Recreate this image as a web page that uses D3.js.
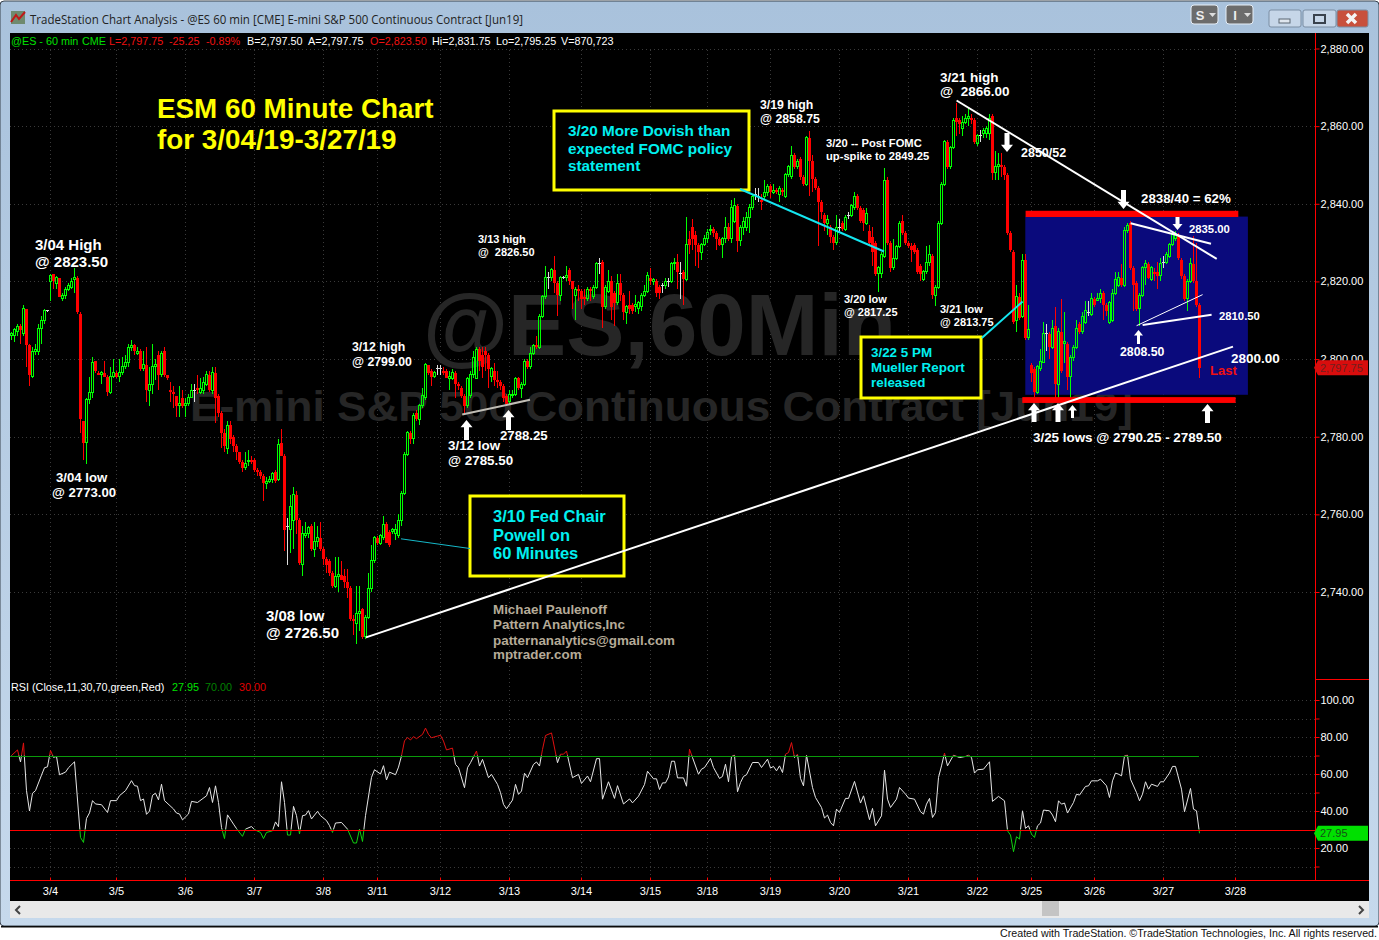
<!DOCTYPE html>
<html>
<head>
    <title>ESM 60 Minute Chart</title>
    <script src="https://d3js.org/d3.v7.min.js"></script>
    <style>
        html, body { margin: 0; padding: 0; background: #fff; overflow: hidden; }
        svg { display: block; font-family: "Liberation Sans", Arial, sans-serif; }
        .axis text { fill: #fff; font-size: 11px; font-family: "Liberation Sans", Arial, sans-serif; }
        .axis line { stroke: #f00; }
        .note { font-weight: bold; white-space: pre; }
    </style>
</head>
<body>
<div id="chart"></div>
<script>
// 60 minute bars, one list per session, each row is [open, high, low, close]
const barsMar01 = [[2806,2807,2805,2806.5],[2806,2808,2804.5,2807.5],[2807,2809,2806,2808.5],[2808.5,2809,2804,2807.5],[2806.5,2814,2806,2813],[2813,2813,2798,2803.5],[2803.5,2804,2793,2796],[2795.5,2803,2795,2802],[2802,2804,2801,2802.5],[2802,2809,2801,2808],[2808,2811,2804,2810],[2810,2813,2809,2812.5],[2812.5,2812.75,2812.25,2812.5]];
const barsMar04 = [[2820,2822,2815,2821.5],[2822,2822,2818,2820],[2819.5,2821.5,2818,2821],[2821,2821,2816,2816],[2815.5,2817,2815,2816.5],[2816.5,2818.5,2815.5,2818],[2818,2819.5,2817.5,2819],[2818.5,2821,2818,2820],[2820.5,2823.5,2817,2821],[2821,2821.5,2811.5,2812],[2811.5,2812,2781,2784.5],[2784,2784,2774,2778.5],[2778.5,2790,2773,2789.5],[2789.5,2795.5,2788.5,2791.5],[2791.5,2800.5,2790,2799],[2799.5,2799.5,2796.5,2797],[2796.5,2797,2796,2796],[2796,2797,2793.5,2796.5],[2796.5,2799.5,2795.5,2795.5],[2795.5,2796,2790.5,2791.5],[2791.5,2798,2791,2795.5],[2795.5,2800,2795,2796.5]];
const barsMar05 = [[2796.5,2797,2795,2795.5],[2795.5,2800,2794,2796.5],[2796.5,2800.5,2796,2798],[2798,2801,2797.5,2799],[2799,2804,2798,2803],[2803,2805,2802,2803.5],[2803.5,2804,2801,2802],[2801.5,2803,2801,2802],[2802,2802.5,2797,2797.5],[2797.5,2802,2797,2798.5],[2798.5,2803,2789,2792],[2792,2798,2788,2793.5],[2793.5,2804,2791,2798],[2798,2800,2794.5,2798.5],[2801,2802,2792,2796],[2796,2802,2795.5,2801.5],[2802,2803,2795.5,2796],[2796,2796,2794.5,2795],[2792,2794,2789,2791.5],[2791.5,2793,2787.5,2791],[2790.5,2790.5,2785,2788],[2788,2793,2785,2788.5],[2790,2792,2787.5,2788]];
const barsMar06 = [[2788,2790,2785,2788.5],[2788.5,2791,2788,2790],[2790,2793.5,2790,2792],[2792,2793.5,2789,2792],[2792.5,2796,2791,2792],[2791.5,2795,2791,2792.5],[2792,2795.5,2791,2794],[2793.5,2797,2793,2796],[2796,2797,2791.5,2792],[2792,2798,2791,2796.5],[2796.5,2798,2783.5,2790],[2790.5,2791,2785,2786],[2786,2786.5,2777,2781],[2781,2782,2776,2777.5],[2777,2784,2775.5,2783],[2783,2784,2778,2779.5],[2780,2780.5,2776,2777.5],[2777.5,2778,2774,2776],[2776,2776,2773,2773.5],[2773.5,2774,2771,2772],[2772,2776,2771.5,2773],[2773.5,2776.5,2772.5,2774],[2774,2775,2773,2773.5]];
const barsMar07 = [[2774,2774.5,2771,2771.5],[2771.5,2772,2770,2771],[2771,2771.5,2769,2770],[2770,2770.5,2763.5,2768],[2768,2769.5,2766.5,2768.5],[2768.5,2770,2768,2769],[2769,2771,2768,2770.5],[2771,2771.5,2768,2768.5],[2769,2779.5,2768.5,2778],[2778.5,2782,2775,2775],[2775,2775.5,2750.5,2756],[2757,2759,2747,2757],[2756,2765,2750,2762],[2758.5,2767,2751,2765],[2765,2766,2755,2758.5],[2758.5,2759,2747,2747.5],[2747,2757,2744,2755],[2754.5,2758,2754,2755],[2755,2757,2754,2756.5],[2757,2757.5,2750.5,2751],[2751,2758,2749,2753],[2753,2757,2751.5,2754],[2754,2758,2750.5,2751]];
const barsMar08 = [[2751,2751.5,2747,2748.5],[2748.5,2749,2745,2747],[2748,2748.5,2744,2745],[2745,2745.5,2741,2741.5],[2741.5,2749,2741,2744],[2744,2749,2740,2744.5],[2744.5,2748,2743,2743],[2744,2746,2741,2742.5],[2742.5,2746,2738.5,2741],[2741,2741.5,2732.5,2733],[2733,2734,2729,2732.5],[2732,2741.5,2726.5,2734.5],[2734.5,2741.5,2730,2735],[2735.5,2736,2728,2728.5],[2728.5,2734,2728,2733.5],[2733.5,2745,2733,2741],[2741,2752,2740,2748],[2748,2754.5,2747.5,2754]];
const barsMar11 = [[2754,2754.5,2752,2752.5],[2752.5,2755,2752,2754.5],[2754,2759.5,2753.5,2757.5],[2757.5,2758,2752.5,2752.5],[2755.5,2756,2751.5,2752],[2755.5,2756.5,2755,2756],[2755,2757.5,2753.5,2756],[2754.5,2760,2754,2758.5],[2758.5,2766,2757,2765.5],[2765.5,2776,2765,2775.5],[2775.5,2781.5,2775,2781],[2781,2781.5,2778,2779.5],[2779.5,2786,2778,2785.5],[2786,2787,2784,2784.5],[2784.5,2788.5,2783,2788],[2788,2792.5,2787.5,2790.5],[2790,2799,2789.5,2798.5],[2798.5,2798.5,2796,2796.5],[2797,2797.5,2793,2795.5],[2795.5,2797,2795,2796.5],[2797.5,2798.5,2796,2797.5]];
const barsMar12 = [[2797.5,2798.5,2796,2797.5],[2797,2798,2796,2796.5],[2797,2797.5,2795,2795],[2795,2797,2792,2795.5],[2795,2797.5,2794.5,2796.5],[2796.5,2797,2790,2793.5],[2793.5,2794,2792,2793],[2792.5,2793,2790,2790.5],[2790.5,2791,2785.5,2788],[2788,2795.5,2787.5,2795],[2790.5,2797,2790,2796],[2796,2802,2795,2800.5],[2795,2803,2795,2802.5],[2802.5,2803,2797,2799.5],[2801,2803,2795,2798],[2802,2803,2797,2801],[2801,2801.5,2792.5,2797.5],[2795.5,2798,2794,2797.5],[2797,2799,2793,2794.5],[2794.5,2797,2792.5,2794],[2794,2794.5,2792,2793],[2793,2793.5,2789,2790],[2790.5,2791,2788.25,2788.5]];
const barsMar13 = [[2789,2792,2788.5,2791],[2790.5,2792,2790,2791],[2791,2795.5,2790.5,2795],[2795,2795.5,2792,2792.5],[2792.5,2794,2790,2793.5],[2793.5,2800,2793,2799.5],[2799.5,2800,2797.5,2798],[2798,2803,2797.5,2801.5],[2801.5,2804,2801,2803.5],[2803.5,2806,2802.5,2803],[2803,2811.5,2802.5,2811],[2811,2816.5,2810.5,2816],[2816,2824,2815.5,2821],[2821,2822.5,2818,2821],[2821,2823.5,2820,2823],[2823,2826.5,2817,2819.5],[2819.5,2820,2811,2816.5],[2816.5,2821.5,2815,2821],[2821,2821.5,2820.5,2821],[2821,2824,2820,2821.5],[2823,2823.5,2819,2820],[2820,2820,2813,2818],[2816.5,2818.5,2810,2818],[2818,2819,2815,2817.5]];
const barsMar14 = [[2817.5,2818,2813,2815.5],[2816,2818,2814,2815.5],[2815.5,2818.5,2815,2818],[2818,2818.5,2815,2817.5],[2816,2819,2815.5,2818.5],[2818.5,2825,2818,2824.5],[2824.5,2826,2822,2824.5],[2825,2825.5,2808,2813.5],[2813.5,2819,2813,2818.5],[2817.5,2823,2817,2820],[2820,2821.5,2810,2813.5],[2817,2817.5,2808.5,2814.5],[2814.5,2822,2814,2819.5],[2819.5,2822,2815,2816.5],[2816.5,2817,2810,2812],[2812,2814,2809,2813.5],[2814,2817.5,2811.5,2813],[2814,2814.5,2811.5,2812.5],[2813.5,2816.5,2812,2814],[2813,2815,2811.5,2814.5],[2813.5,2817,2812.5,2816.5],[2816.5,2819,2816,2817.5],[2817.5,2822.5,2817,2821.5]];
const barsMar15 = [[2821,2823.5,2819,2820],[2820,2821,2819,2820.5],[2820,2820.5,2816,2817],[2818.5,2819,2815.5,2817],[2819,2819.5,2817,2819],[2819,2821,2818,2820],[2820,2821,2818.5,2820],[2820,2825,2819.5,2824.5],[2824.5,2826,2823,2825],[2825,2827,2818,2822.5],[2822,2825,2815.5,2822],[2822.5,2823,2814,2820.5],[2820.5,2836.5,2820,2829.5],[2831,2833,2827,2829.5],[2834,2836,2828,2831],[2832,2833,2824,2829.5],[2829.5,2830,2823.5,2827.5],[2827.5,2830,2825.5,2829.5],[2829.5,2832,2829,2831]];
const barsMar18 = [[2831,2833.5,2830,2832.5],[2833,2834.5,2832,2833.5],[2833.5,2834,2831.5,2832.5],[2832.5,2833,2828,2831],[2831,2831.5,2829,2829.5],[2829.5,2831.5,2826,2831],[2831,2836.5,2830,2834],[2834,2835,2830.5,2831],[2831,2841,2830,2839],[2835.5,2841.5,2835,2839.5],[2839.5,2840,2827.5,2830.5],[2830.5,2834.5,2829,2834],[2834,2836.5,2832,2835.5],[2834,2838,2833,2836.5],[2836.5,2840,2832.5,2839],[2839,2842.5,2838.5,2842],[2842.5,2844,2841,2842.5],[2842,2844,2840.5,2842],[2841,2842.5,2838.5,2840.5],[2842,2846,2841,2843],[2843,2845,2842,2844.5]];
const barsMar19 = [[2844.5,2845,2841.5,2843],[2843,2845,2842.5,2843.5],[2843.5,2844,2842.5,2843],[2842.5,2844.5,2840.5,2844],[2843.5,2844,2842,2843],[2842,2848,2841.5,2847.5],[2847.5,2850,2847,2849.5],[2847,2855,2846.5,2852.5],[2852.5,2853,2849,2849.5],[2849.5,2851.5,2849,2851],[2851.5,2852,2846,2847],[2847,2847.5,2844.5,2845],[2845,2857.5,2844.5,2857],[2857,2858.75,2842,2851],[2851,2852.5,2843,2846.5],[2846.5,2847,2843.5,2844],[2844,2844.5,2829,2840.5],[2840.5,2841,2836,2838],[2837,2837.5,2833,2835],[2835,2837,2832,2836],[2834,2834.5,2830,2831.5],[2831.5,2832,2828,2830],[2830,2837,2829.5,2834]];
const barsMar20 = [[2834,2836,2832.5,2834],[2835,2835.5,2833,2833.5],[2833.5,2837,2833,2836.5],[2837,2838,2836,2837],[2837,2840,2836.5,2839.5],[2839,2843,2838.5,2842],[2842,2842.5,2838.5,2839],[2839,2839.5,2835,2835.5],[2838.5,2839,2833,2835],[2835,2839,2834.5,2837.5],[2833,2834.5,2829,2830],[2831.5,2834,2824,2827.5],[2830,2830.5,2821.5,2822],[2822,2824,2817.25,2823.5],[2822,2827.5,2821,2827],[2826.5,2849.25,2826,2846],[2846,2847,2829.5,2830],[2830,2830.5,2822.5,2823.5],[2823.5,2831,2823,2826],[2826,2829.5,2825.5,2829],[2829,2835.5,2828.5,2835],[2835.5,2837,2832,2832.5],[2832.5,2833,2829.5,2830]];
const barsMar21 = [[2830,2830.5,2828.5,2829],[2829,2830,2825,2828],[2829.5,2830,2827,2827.5],[2828,2828.5,2822,2822.5],[2824,2824.5,2820,2822],[2820.5,2823,2820,2822.5],[2822.5,2829,2822,2825],[2825,2829.5,2824,2827],[2826.5,2827,2815.5,2816.5],[2816.5,2819,2813.75,2818.5],[2818.5,2835.5,2818,2835],[2835,2845.5,2834.5,2845],[2845,2856.5,2844.5,2856],[2856,2856.5,2849,2849.5],[2849.5,2855,2849,2854.5],[2854.5,2862,2854,2861.5],[2862,2866,2857.5,2861],[2861.5,2862,2858,2860.5],[2859.5,2862.5,2857.5,2861],[2861,2863,2860.5,2862],[2862,2865,2860,2862.5],[2862,2863,2860.5,2861.5],[2861.5,2862,2855.5,2856]];
const barsMar22 = [[2855.5,2858,2855,2857.5],[2857.5,2859,2856,2857.5],[2858,2859.5,2857,2859],[2858,2860,2857,2859.5],[2858,2863,2856.5,2862],[2862.5,2863,2846,2848],[2848,2853.5,2846,2849.5],[2849.5,2853,2846,2850],[2850,2853,2847,2849.5],[2849.5,2850,2846,2847.5],[2847.5,2848,2832,2832.5],[2832.5,2833,2827.5,2828],[2827.5,2828,2809,2809.5],[2810,2819,2807,2816],[2816,2817,2810,2810.5],[2811,2827,2810.5,2825.5],[2825.5,2827,2805,2805.5],[2805.5,2814,2805,2807.5]];
const barsMar25 = [[2798.5,2799,2794,2796.5],[2797.5,2798,2790.25,2791.5],[2791.5,2798.5,2791,2798],[2797.5,2802.5,2797,2799.5],[2799,2809.5,2799,2806.5],[2806.5,2809,2802,2806.5],[2806.5,2807,2800,2803],[2803,2810,2802.5,2808],[2808.5,2813.5,2789.5,2793.5],[2793.5,2808,2789.5,2807],[2807,2815.5,2796.5,2797],[2804,2812,2799,2804.5],[2804,2804.5,2792,2795.5],[2795.5,2801,2789.5,2800.5],[2800.5,2803.5,2799.5,2803],[2803,2810,2802.5,2808],[2809,2809.5,2806.5,2807],[2807,2812,2806.5,2811],[2809.5,2815,2809,2812.5],[2812,2815,2811,2812],[2811.5,2817,2811,2815.5]];
const barsMar26 = [[2815.5,2816,2813.5,2814],[2815,2817,2815,2815.5],[2815.5,2818,2814.5,2817],[2817,2817.5,2810,2814],[2814,2814.5,2811,2812.5],[2809.5,2815,2809,2814.5],[2810,2818,2809.5,2817],[2817,2822.5,2816.5,2820.5],[2819,2822.5,2818.5,2821],[2821,2824.5,2818.5,2819],[2819,2834,2818.5,2833],[2833,2835,2832.5,2834.5],[2835,2835.5,2823,2823.5],[2823.5,2824,2812.5,2819],[2819.5,2820,2812.5,2813],[2813,2817,2808.5,2816.5],[2816.5,2824,2816,2823.5],[2823.5,2825.5,2819,2824.5],[2824.5,2825,2820.5,2821],[2820.5,2824,2820,2823.5],[2822.5,2823.5,2820,2822],[2822.5,2825,2818,2821.5],[2821.5,2826,2820,2824.5]];
const barsMar27 = [[2825,2826.5,2823.5,2825],[2825,2827.5,2824.5,2827],[2826.5,2830,2826,2829.5],[2829.5,2833,2829,2832],[2831,2833,2830.5,2832],[2832,2832.5,2825.5,2826],[2825.5,2826,2820.5,2821.5],[2821.5,2822,2815,2815.5],[2815.5,2820.5,2812.5,2820],[2820,2826,2819.5,2824.5],[2824.5,2831.75,2819.5,2820],[2820,2830,2813.5,2814],[2814,2814.5,2795.25,2797.75]];

// RSI turning points: bar number and value
const rsiBar = [0,2,3,4,5,6,7,8,10,11,12,13,14,15,16,18,19,21,23,24,25,26,27,28,30,32,33,35,36,38,40,41,42,43,44,45,46,47,48,49,50,51,54,55,56,57,59,60,62,65,66,67,68,69,70,71,72,74,75,77,78,80,81,83,84,85,87,88,89,90,91,92,93,94,95,96,97,98,99,100,102,103,105,106,107,108,110,112,114,115,116,117,118,120,121,123,124,125,126,128,129,130,131,132,133,134,135,137,138,139,140,142,143,144,145,147,148,149,151,152,153,155,156,157,159,160,162,163,164,165,167,168,169,170,171,172,174,175,176,177,178,180,182,183,184,185,187,189,190,192,193,195,196,197,199,201,202,204,206,207,209,211,212,214,215,216,217,218,219,220,221,222,224,225,226,227,229,230,231,233,234,236,237,238,239,240,241,242,243,244,245,247,249,250,252,253,254,255,256,257,258,259,260,261,262,263,264,265,267,268,270,271,272,273,274,275,276,278,279,281,283,284,286,287,288,290,291,292,293,295,296,298,299,301,303,304,305,306,307,308,309,310,311,312,314,316,318,319,320,321,322,324,326,327,329,331,332,333,334,335,336,337,338,339,340,341,342,343,344,346,347,348,349,350,351,352,354,355,356,358,359,360,362,363,365,366,367,368,369,370,371,372,373,375,376,377,378,379,380,382,383,384,386,387,388,390,391,393,394,395,396];
const rsiValue = [70,73,66.5,76.8,51,40,49.6,51,59.4,63.4,63.9,72.7,69,69.5,59.6,61,63.4,66.6,25.7,23,36,39,45.6,43.8,43.4,39.2,45.6,45.6,48.3,51,56.4,53.7,53.4,45.6,46.5,38.2,40,48.5,49.6,46,54.5,45.6,41.1,38.9,38.4,35.2,38.4,45.2,44.6,48.2,52.7,44.6,53.6,44.6,31.1,25.1,37.9,32.9,30.5,26.3,30.2,31.6,29.9,28.4,25.1,28.4,29.3,34.1,31.5,55.8,44.6,27,27,42.5,37.5,27.6,37.5,37.8,40.2,35.7,39.8,37.5,34.8,32.1,28.4,33.5,33.8,30.2,22.7,22.7,30.2,23.5,37.5,58.2,62.3,60,64.5,56.8,61,59.6,63.7,69.8,77.9,79.7,78.4,80.2,79.1,81.4,84.8,81.4,79.6,80.5,80.9,77.8,73,74,65.2,63.4,52.6,63.4,66.1,72.4,64.3,67.9,58,59.8,54.4,49.9,43.6,41.2,45.9,54.4,49,50.8,60.4,58,65.2,66.5,64.3,73.3,80.8,82.2,66.1,70.7,70.7,72.4,58,59.8,54.9,58.9,55.8,68.3,68.3,46.4,55.8,46.8,53.7,43.8,46.5,44.4,48,54.3,61.5,57.4,57.4,51.6,55.2,55.2,58.4,66.9,66.9,57.9,57.9,53.4,73.4,68.9,59.9,62.6,63.5,68.4,63.5,57.6,58.7,65.3,55.8,69.5,70.2,50.4,55.4,58.7,59.6,66.2,66.2,63.5,68,63.2,64.1,61.7,64.4,60.8,70.7,71.6,77,68.9,70.7,57.6,53.6,70.2,52.7,47.3,41.9,36.2,37.8,33.8,32,41,39.2,46.8,46.8,56,44.3,48.2,35.3,41.4,32,37.4,62.1,46.4,41.9,46.4,52.7,49.1,47,46.4,39.6,38.3,43.7,46.8,36.5,39.2,58.1,64.4,71.3,64.4,70.2,68.9,69.5,70.2,68.9,60.5,62.3,62.6,66.6,45.2,47.9,45.5,29.3,27,18,26.1,24.8,40.1,30.6,32,27.5,25.7,32,33.5,40.5,40.1,37.8,34.2,45.5,43.7,44.3,38.9,44.6,49.1,48.6,53.3,53.6,56.3,56.3,57.2,53.6,47.3,56.3,60.5,59.9,59,69.8,70.2,57.2,50,45.5,49.1,55.8,51.8,54.5,53.3,55.8,55.8,60.5,64.1,64.1,51.8,39.6,52.2,41,40.1,27.95];

// axes
const dateLabels = ["3/4","3/5","3/6","3/7","3/8","3/11","3/12","3/13","3/14","3/15","3/18","3/19","3/20","3/21","3/22","3/25","3/26","3/27","3/28"];
const dateBars = [13,35,58,81,104,122,143,166,190,213,232,253,276,299,322,340,361,384,408];
const priceTicks = [2880,2860,2840,2820,2800,2780,2760,2740];
const rsiTicks = [100,90,80,70,60,50,40,30,20,10];

// drawn-on lines and zones: [bar, price] pairs
const riseLine = [[118.33,2728.3],[407.33,2803.2]];
const fallLine = [[315.2,2866.6],[401.9,2825.8]];
const wedgeTop = [[373.2,2835],[400,2829.7]];
const wedgeThin = [[375.2,2808.6],[397.2,2816.6]];
const wedgeLow = [[377.2,2808.8],[400.2,2811.4]];
const lowsLine = [[150.4,2785.7],[173,2789.5]];
const fomcLine = [[243,2843.8],[291,2827.7]];
const muellerLine = [[323.6,2805.4],[337.2,2814.8]];
const powellLine = [[130,2753.7],[153,2751.2]];
const blueZone = [[338.1,2836.7],[412.3,2790.8]];
const topZone = [[338.2,2838.2],[409.1,2836.6]];
const lowZone = [[337.1,2790.2],[408.2,2788.7]];

const bars = [].concat(barsMar01,barsMar04,barsMar05,barsMar06,barsMar07,barsMar08,barsMar11,barsMar12,barsMar13,barsMar14,barsMar15,barsMar18,barsMar19,barsMar20,barsMar21,barsMar22,barsMar25,barsMar26,barsMar27)
    .map(d => ({open: d[0], high: d[1], low: d[2], close: d[3]}));

const W = 1379, H = 940;
const plotLeft = 10, plotRight = 1369, axisX = 1315.5, panelTop = 33, panelBottom = 880.5;

const svg = d3.select("#chart").append("svg").attr("width", W).attr("height", H);
const defs = svg.append("defs");

const x = d3.scaleLinear().domain([0, 396]).range([11, 11 + 396 * 3]);
const px = i => Math.round(x(i));
const y = d3.scaleLinear().domain([2880, 2740]).range([48.5, 592]);
const yRsi = d3.scaleLinear().domain([100, 0]).range([700, 885]);

// window frame
const titleGrad = defs.append("linearGradient").attr("id", "titleGrad").attr("x2", 0).attr("y2", 1);
titleGrad.append("stop").attr("offset", 0).attr("stop-color", "#a9c2dc");
titleGrad.append("stop").attr("offset", 1).attr("stop-color", "#c6d9ec");
svg.append("rect").attr("x", 0).attr("y", 1).attr("width", W).attr("height", 925).attr("rx", 4)
    .attr("fill", "url(#titleGrad)").attr("stroke", "#39424d");
svg.append("rect").attr("x", 1).attr("y", 926).attr("width", W - 2).attr("height", 1.5).attr("fill", "#0a0a0a");
svg.append("rect").attr("x", plotLeft).attr("y", panelTop).attr("width", plotRight - plotLeft).attr("height", 868).attr("fill", "#000");

svg.append("text").attr("x", 30).attr("y", 24).attr("font-family", "'Open Sans'").attr("font-size", 12)
    .attr("textLength", 493).attr("lengthAdjust", "spacingAndGlyphs").attr("fill", "#222")
    .text("TradeStation Chart Analysis - @ES 60 min [CME] E-mini S&P 500 Continuous Contract [Jun19]");

// title icon
svg.append("rect").attr("x", 11).attr("y", 11).attr("width", 14).attr("height", 13).attr("fill", "#6f8a6f");
svg.append("path").attr("d", "M11 22L16 15L19 19L25 12").attr("fill", "none").attr("stroke", "#c01818").attr("stroke-width", 2);

// window buttons
[[1191, "S"], [1226, "I"]].forEach(b => {
    svg.append("rect").attr("x", b[0]).attr("y", 5).attr("width", 27).attr("height", 19).attr("rx", 3)
        .attr("fill", "#6c6c6c").attr("stroke", "#e6eef6");
    svg.append("text").attr("x", b[0] + 9).attr("y", 20).attr("text-anchor", "middle").attr("font-weight", "bold")
        .attr("font-size", 13).attr("fill", "#eee").text(b[1]);
    svg.append("path").attr("d", `M${b[0] + 18} 13h7l-3.5 4z`).attr("fill", "#ddd");
});
[[1269, 32, "#c6d6e8"], [1303, 33, "#c6d6e8"], [1337, 31, "#c8503c"]].forEach(b => {
    svg.append("rect").attr("x", b[0]).attr("y", 10).attr("width", b[1]).attr("height", 17).attr("rx", 2)
        .attr("fill", b[2]).attr("stroke", "#7b8ea3");
});
svg.append("rect").attr("x", 1279).attr("y", 19).attr("width", 11).attr("height", 4).attr("fill", "#dfe6ee").attr("stroke", "#5a6672");
svg.append("rect").attr("x", 1314).attr("y", 15).attr("width", 11).attr("height", 8).attr("fill", "none").attr("stroke", "#39424d").attr("stroke-width", 2);
svg.append("path").attr("d", "M1347 14l9 9M1356 14l-9 9").attr("stroke", "#f4f4f4").attr("stroke-width", 3.5);

// bottom scroll bar and footer
svg.append("rect").attr("x", plotLeft).attr("y", 901).attr("width", plotRight - plotLeft).attr("height", 17).attr("fill", "#e9e9e9");
svg.append("rect").attr("x", 1042).attr("y", 901).attr("width", 17).attr("height", 15).attr("fill", "#c4c4c4");
svg.append("path").attr("d", "M20 906l-4 4l4 4M1359 906l4 4l-4 4").attr("fill", "none").attr("stroke", "#444").attr("stroke-width", 2);
svg.append("text").attr("x", 1000).attr("y", 937).attr("font-size", 11).attr("fill", "#111")
    .attr("textLength", 377).attr("lengthAdjust", "spacingAndGlyphs")
    .text("Created with TradeStation. ©TradeStation Technologies, Inc. All rights reserved.");

// grid
const grid = svg.append("g").attr("stroke", "#3a3a3a").attr("stroke-dasharray", "1,3");
grid.selectAll(".gx").data(dateBars).join("line")
    .attr("x1", d => px(d) + 0.5).attr("x2", d => px(d) + 0.5).attr("y1", 50).attr("y2", panelBottom);
grid.selectAll(".gy").data(priceTicks).join("line")
    .attr("x1", plotLeft).attr("x2", axisX).attr("y1", d => Math.round(y(d)) + 0.5).attr("y2", d => Math.round(y(d)) + 0.5);
grid.selectAll(".gr").data(rsiTicks).join("line")
    .attr("x1", plotLeft).attr("x2", axisX).attr("y1", d => Math.round(yRsi(d)) + 0.5).attr("y2", d => Math.round(yRsi(d)) + 0.5);

// watermarks
svg.append("text").attr("x", 423).attr("y", 355).attr("font-size", 87).attr("font-weight", "bold").attr("fill", "#262626")
    .attr("textLength", 473).attr("lengthAdjust", "spacingAndGlyphs").text("@ES,60Min");
svg.append("text").attr("x", 190).attr("y", 421).attr("font-size", 42).attr("font-weight", "bold").attr("fill", "#262626")
    .attr("textLength", 943).attr("lengthAdjust", "spacingAndGlyphs").text("E-mini S&P 500 Continuous Contract [Jun19]");

// zones
const zone = (z, color) => svg.append("rect")
    .attr("x", x(z[0][0])).attr("y", y(z[0][1]))
    .attr("width", x(z[1][0]) - x(z[0][0])).attr("height", y(z[1][1]) - y(z[0][1]))
    .attr("fill", color);
zone(blueZone, "#0a0a7c");

// candles
const up = d => d.close > d.open, down = d => d.close < d.open;
const barColor = d => up(d) ? "#00ff00" : down(d) ? "#ff0000" : "#dddddd";
const candles = svg.append("g").attr("shape-rendering", "crispEdges");
const item = candles.selectAll("g").data(bars).join("g")
    .attr("transform", (d, i) => `translate(${px(i)},0)`);
item.append("line").attr("x1", 0.5).attr("x2", 0.5)
    .attr("y1", d => y(d.high)).attr("y2", d => y(Math.max(d.open, d.close)))
    .attr("stroke", barColor);
item.append("line").attr("x1", 0.5).attr("x2", 0.5)
    .attr("y1", d => y(Math.min(d.open, d.close))).attr("y2", d => y(d.low))
    .attr("stroke", barColor);
item.filter(down).append("rect").attr("x", -1).attr("width", 3)
    .attr("y", d => y(d.open)).attr("height", d => Math.max(1, y(d.close) - y(d.open)))
    .attr("fill", "#ff0000");
item.filter(up).append("rect").attr("x", -0.5).attr("width", 2)
    .attr("y", d => y(d.close)).attr("height", d => y(d.open) - y(d.close))
    .attr("fill", "none").attr("stroke", "#00ff00");
item.filter(d => d.open === d.close).append("line")
    .attr("x1", -1).attr("x2", 2)
    .attr("y1", d => y(d.open)).attr("y2", d => y(d.open)).attr("stroke", "#dddddd");

zone(topZone, "#ff0000");
zone(lowZone, "#ff0000");

// yellow boxes sit under the drawn lines
const box = (x0, y0, w, h) => svg.append("rect").attr("x", x0).attr("y", y0).attr("width", w).attr("height", h)
    .attr("fill", "#000").attr("stroke", "#ffff00").attr("stroke-width", 3);
box(554, 111, 195, 79);
box(861, 337, 120, 61);
box(470, 496, 154, 80);

const seg = (pts, color, width) => svg.append("line")
    .attr("x1", x(pts[0][0])).attr("y1", y(pts[0][1]))
    .attr("x2", x(pts[1][0])).attr("y2", y(pts[1][1]))
    .attr("stroke", color).attr("stroke-width", width);
seg(riseLine, "#ffffff", 2);
seg(fallLine, "#ffffff", 2);
seg(wedgeTop, "#ffffff", 2);
seg(wedgeThin, "#ffffff", 1);
seg(wedgeLow, "#ffffff", 2);
seg(lowsLine, "#c0bdb5", 2);
seg(fomcLine, "#14e6f0", 2);
seg(muellerLine, "#14e6f0", 2);
seg(powellLine, "#16b8c8", 1);

const note = (text, x0, y0, size, color) => svg.append("text").attr("class", "note")
    .attr("x", x0).attr("y", y0).attr("font-size", size).attr("fill", color || "#fff").text(text);

note("ESM 60 Minute Chart", 157, 118, 27.8, "#ffff00");
note("for 3/04/19-3/27/19", 157, 149, 27.8, "#ffff00");

note("3/20 More Dovish than", 568, 136, 15.3, "#00f0f0");
note("expected FOMC policy", 568, 154, 15.3, "#00f0f0");
note("statement", 568, 171, 15.3, "#00f0f0");
note("3/22 5 PM", 871, 357, 13.4, "#00f0f0");
note("Mueller Report", 871, 372, 13.4, "#00f0f0");
note("released", 871, 387, 13.4, "#00f0f0");
note("3/10 Fed Chair", 493, 522, 16.5, "#00f0f0");
note("Powell on", 493, 541, 16.5, "#00f0f0");
note("60 Minutes", 493, 559, 16.5, "#00f0f0");

note("3/04 High", 35, 250, 15);
note("@ 2823.50", 35, 267, 15);
note("3/04 low", 56, 482, 13.2);
note("@ 2773.00", 52, 497, 13.2);
note("3/08 low", 266, 621, 15);
note("@ 2726.50", 266, 638, 15);
note("3/12 high", 352, 351, 12.3);
note("@ 2799.00", 352, 366, 12.3);
note("3/13 high", 478, 243, 11);
note("@  2826.50", 478, 256, 11);
note("3/12 low", 448, 450, 13.4);
note("@ 2785.50", 448, 465, 13.4);
note("2788.25", 500, 440, 13.2);
note("3/19 high", 760, 109, 12.3);
note("@ 2858.75", 760, 123, 12.3);
note("3/20 -- Post FOMC", 826, 147, 11.2);
note("up-spike to 2849.25", 826, 160, 11.2);
note("3/20 low", 844, 303, 11);
note("@ 2817.25", 844, 316, 11);
note("3/21 low", 940, 313, 11);
note("@ 2813.75", 940, 326, 11);
note("3/21 high", 940, 82, 13.5);
note("@  2866.00", 940, 96, 13.5);
note("2850/52", 1021, 157, 12.5);
note("2838/40 = 62%", 1141, 203, 13.3);
note("2835.00", 1189, 233, 11.3);
note("2810.50", 1219, 320, 11.3);
note("2808.50", 1120, 356, 12.3);
note("2800.00", 1231, 363, 13.5);
note("Last", 1210, 375, 13, "#f01010");
note("3/25 lows @ 2790.25 - 2789.50", 1033, 442, 13.4);
note("Michael Paulenoff", 493, 614, 13.4, "#b5ab98");
note("Pattern Analytics,Inc", 493, 629, 13.4, "#b5ab98");
note("patternanalytics@gmail.com", 493, 645, 13.4, "#b5ab98");
note("mptrader.com", 493, 659, 13.4, "#b5ab98");

// block arrows
const arrow = (cx, tip, tail, head, stem) => {
    const dir = tail > tip ? 1 : -1, neck = tip + dir * head * 1.2;
    const p = d3.path();
    p.moveTo(cx, tip);
    p.lineTo(cx + head, neck);
    p.lineTo(cx + stem, neck);
    p.lineTo(cx + stem, tail);
    p.lineTo(cx - stem, tail);
    p.lineTo(cx - stem, neck);
    p.lineTo(cx - head, neck);
    p.closePath();
    svg.append("path").attr("d", p.toString()).attr("fill", "#fff");
};
arrow(466.5, 420, 440, 6, 2.5);
arrow(508.5, 410, 430, 6, 2.5);
arrow(1007, 152, 133, 6, 2.5);
arrow(1123.5, 209, 190, 6, 2.5);
arrow(1177.5, 230, 217, 5, 2);
arrow(1138.5, 330, 344, 4.5, 1.5);
arrow(1034, 403, 422, 6, 2.5);
arrow(1058, 403, 422, 6, 2.5);
arrow(1072.5, 405, 418, 4.5, 1.5);
arrow(1207.5, 404, 423, 6, 2.5);

// header lines
const head = (text, x0, y0, color) => svg.append("text").attr("x", x0).attr("y", y0).attr("font-size", 10.8).attr("fill", color).text(text);
head("@ES - 60 min", 11, 45, "#00e000");
head("CME", 82, 45, "#00e000");
head("L=2,797.75", 109, 45, "#f01010");
head("-25.25", 169, 45, "#f01010");
head("-0.89%", 206, 45, "#f01010");
head("B=2,797.50", 247, 45, "#fff");
head("A=2,797.75", 308, 45, "#fff");
head("O=2,823.50", 370, 45, "#f01010");
head("Hi=2,831.75", 432, 45, "#fff");
head("Lo=2,795.25", 496, 45, "#fff");
head("V=870,723", 561, 45, "#fff");
head("RSI (Close,11,30,70,green,Red)", 11, 691, "#fff");
head("27.95", 172, 691, "#00e000");
head("70.00", 205, 691, "#008000");
head("30.00", 239, 691, "#e00000");

// RSI panel
const rsiPoints = rsiBar.map((b, i) => [b, rsiValue[i]]);
const rsiLine = d3.line().x(d => x(d[0]) + 0.5).y(d => yRsi(d[1]));
const rsiBands = [
    {id: "rsiHigh", from: 100, to: 70, color: "#e01010"},
    {id: "rsiMid", from: 70, to: 30, color: "#e6e6e6"},
    {id: "rsiLow", from: 30, to: 0, color: "#10d010"}
];
rsiBands.forEach(b => {
    defs.append("clipPath").attr("id", b.id).append("rect")
        .attr("x", plotLeft).attr("width", axisX - plotLeft)
        .attr("y", yRsi(b.from)).attr("height", yRsi(b.to) - yRsi(b.from));
    svg.append("path").datum(rsiPoints).attr("d", rsiLine)
        .attr("fill", "none").attr("stroke", b.color).attr("stroke-width", 1)
        .attr("clip-path", `url(#${b.id})`);
});
const band70 = Math.round(yRsi(70)) + 0.5, band30 = Math.round(yRsi(30)) + 0.5;
svg.append("line").attr("x1", plotLeft).attr("x2", x(396)).attr("y1", band70).attr("y2", band70)
    .attr("stroke", "#0a9a0a").attr("shape-rendering", "crispEdges");
svg.append("line").attr("x1", plotLeft).attr("x2", axisX).attr("y1", band30).attr("y2", band30)
    .attr("stroke", "#ff0000").attr("shape-rendering", "crispEdges");

// axes
const priceAxis = d3.axisRight(y).tickValues(priceTicks).tickFormat(d3.format(",.2f")).tickSize(4).tickPadding(1);
svg.append("g").attr("class", "axis").attr("transform", `translate(${axisX},0)`).call(priceAxis).call(g => g.select(".domain").remove());
const rsiAxis = d3.axisRight(yRsi).tickValues(rsiTicks).tickFormat(d => d % 20 === 0 ? d3.format(".2f")(d) : "").tickSize(4).tickPadding(1);
svg.append("g").attr("class", "axis").attr("transform", `translate(${axisX},0)`).call(rsiAxis).call(g => g.select(".domain").remove());
const dateAxis = d3.axisBottom(x)
    .tickValues(dateBars).tickFormat((d, i) => dateLabels[i]).tickSizeInner(-3).tickSizeOuter(0).tickPadding(7);
svg.append("g").attr("class", "axis").attr("transform", `translate(0,${panelBottom})`).call(dateAxis).call(g => g.select(".domain").remove());

svg.append("line").attr("x1", axisX).attr("x2", axisX).attr("y1", panelTop).attr("y2", panelBottom).attr("stroke", "#ff0000");
svg.append("line").attr("x1", plotLeft).attr("x2", plotRight).attr("y1", panelBottom).attr("y2", panelBottom).attr("stroke", "#ff0000");
svg.append("line").attr("x1", axisX).attr("x2", plotRight).attr("y1", 679.5).attr("y2", 679.5).attr("stroke", "#ff0000");

// last value tags
const tag = (value, scale, fill, textFill, label) => {
    const c = scale(value);
    const p = d3.path();
    p.moveTo(1314, c);
    p.lineTo(1318, c - 7.5);
    p.lineTo(1368, c - 7.5);
    p.lineTo(1368, c + 7.5);
    p.lineTo(1318, c + 7.5);
    p.closePath();
    svg.append("path").attr("d", p.toString()).attr("fill", fill);
    svg.append("text").attr("x", 1320).attr("y", c + 4).attr("font-size", 11).attr("fill", textFill).text(label);
};
tag(2797.75, y, "#d80d0d", "#6e2020", "2,797.75");
tag(27.95, yRsi, "#00e000", "#155015", "27.95");
</script>
</body>
</html>
